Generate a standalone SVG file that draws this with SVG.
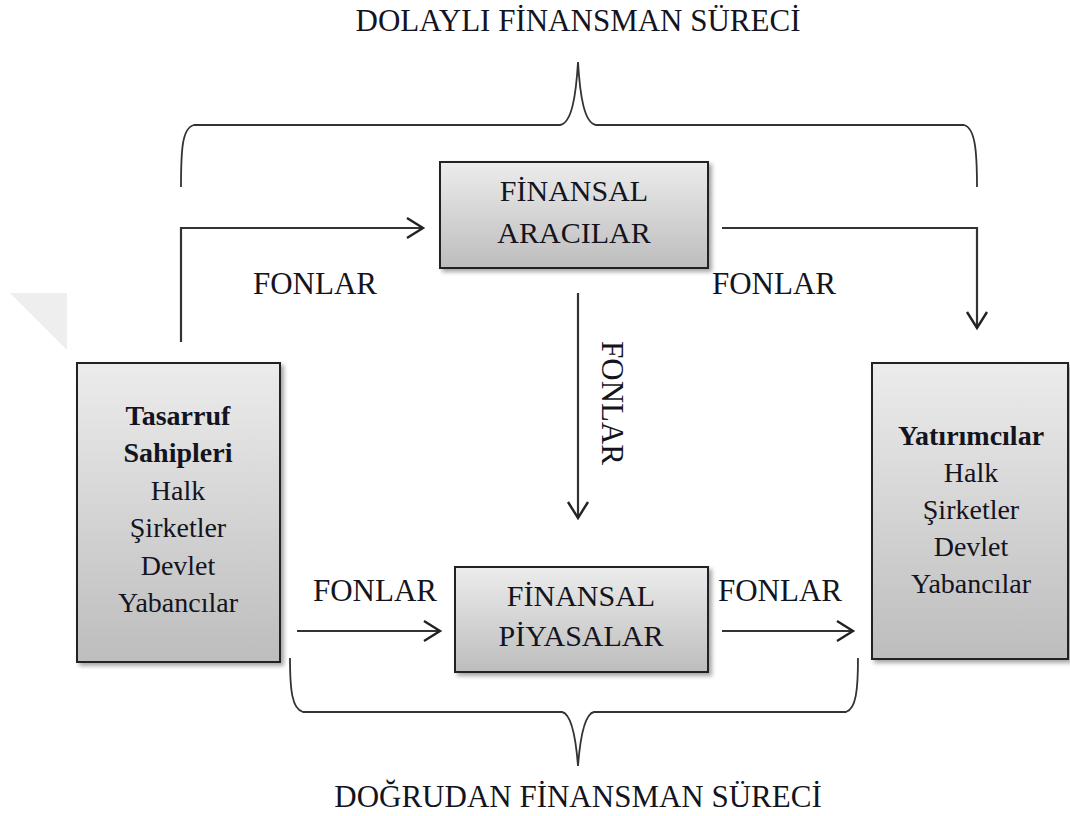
<svg xmlns="http://www.w3.org/2000/svg" width="1070" height="816" viewBox="0 0 1070 816">
  <style>
    text { font-family: "Liberation Serif", "Times New Roman", serif; fill: #141420; text-anchor: middle; }
    .lbl { font-size: 31px; }
    .ttl { font-size: 31px; }
    .ctr { font-size: 30px; }
    .side { font-size: 28px; }
    .b { font-weight: bold; }
    .box { fill: url(#boxGrad); stroke: #222; stroke-width: 2; filter: url(#shadow); }
    .conn { fill: none; stroke: #333; stroke-width: 2.2; }
    .brace { fill: none; stroke: #333; stroke-width: 1.8; }
  </style>
  <defs>
    <linearGradient id="boxGrad" x1="0" y1="0" x2="0" y2="1">
      <stop offset="0" stop-color="#ececec"/>
      <stop offset="1" stop-color="#bdbdbd"/>
    </linearGradient>
    <filter id="shadow" x="-10%" y="-10%" width="130%" height="130%">
      <feDropShadow dx="3" dy="3" stdDeviation="2" flood-color="#000" flood-opacity="0.35"/>
    </filter>
    <marker id="arr" markerUnits="userSpaceOnUse" markerWidth="24" markerHeight="24" refX="18" refY="12" orient="auto">
      <path d="M2,2 L18,12 L2,22" fill="none" stroke="#222" stroke-width="2.4"/>
    </marker>
  </defs>

  <rect width="1070" height="816" fill="#fff"/>
  <polygon points="10,293 67,293 67,350" fill="#eeeeee"/>

  <text class="ttl" x="578" y="31">DOLAYLI FİNANSMAN SÜRECİ</text>
  <text class="ttl" x="578" y="807">DOĞRUDAN FİNANSMAN SÜRECİ</text>

  <g id="connectors">
    <path class="brace" d="M181,187 C181,150 182,128 194,125 L560,125 C572,123 576,95 578,62 C580,95 584,123 596,125 L964,125 C975,128 977,150 977,187"/>
    <path class="brace" d="M290,658 C290,690 292,709 303,712 L562,712 C572,714 576,740 578,766 C580,740 584,714 594,712 L846,712 C856,709 858,690 858,658"/>
    <path class="conn" d="M181,342 L181,228 L423,228" marker-end="url(#arr)"/>
    <path class="conn" d="M722,228 L977,228 L977,328" marker-end="url(#arr)"/>
    <path class="conn" d="M578,293 L578,518" marker-end="url(#arr)"/>
    <path class="conn" d="M297,631 L440,631" marker-end="url(#arr)"/>
    <path class="conn" d="M722,631 L853,631" marker-end="url(#arr)"/>
    <text class="lbl" x="315" y="294">FONLAR</text>
    <text class="lbl" x="774" y="294">FONLAR</text>
    <text class="lbl" transform="translate(602,403) rotate(90)" x="0" y="0">FONLAR</text>
    <text class="lbl" x="375" y="601">FONLAR</text>
    <text class="lbl" x="780" y="601">FONLAR</text>
  </g>

  <g id="aracilar">
    <rect class="box" x="440" y="162" width="268" height="106"/>
    <text class="ctr" x="574" y="201">FİNANSAL</text>
    <text class="ctr" x="574" y="243">ARACILAR</text>
  </g>

  <g id="piyasalar">
    <rect class="box" x="455" y="567" width="253" height="105"/>
    <text class="ctr" x="581" y="606">FİNANSAL</text>
    <text class="ctr" x="581" y="646">PİYASALAR</text>
  </g>

  <g id="tasarruf">
    <rect class="box" x="77" y="363" width="203" height="299"/>
    <text class="side b" x="178" y="425">Tasarruf</text>
    <text class="side b" x="178" y="462">Sahipleri</text>
    <text class="side" x="178" y="500">Halk</text>
    <text class="side" x="178" y="537">Şirketler</text>
    <text class="side" x="178" y="575">Devlet</text>
    <text class="side" x="178" y="612">Yabancılar</text>
  </g>

  <g id="yatirimcilar">
    <rect class="box" x="872" y="363" width="196" height="296"/>
    <text class="side b" x="971" y="445">Yatırımcılar</text>
    <text class="side" x="971" y="482">Halk</text>
    <text class="side" x="971" y="519">Şirketler</text>
    <text class="side" x="971" y="556">Devlet</text>
    <text class="side" x="971" y="593">Yabancılar</text>
  </g>
</svg>
